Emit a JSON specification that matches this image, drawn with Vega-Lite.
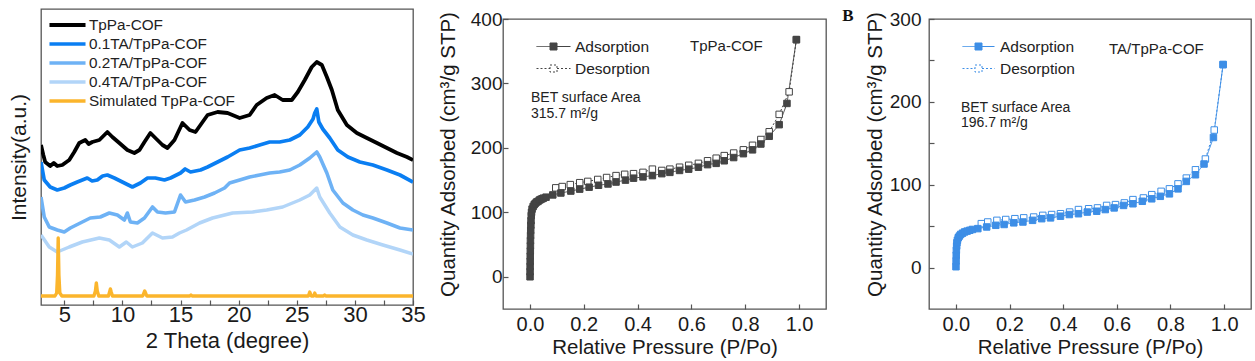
{
"$schema": "https://vega.github.io/schema/vega-lite/v6.json",
"padding": {"left": 7, "top": 5, "right": 0, "bottom": 0},
"background": "white",
"config": {
 "font": "Liberation Sans",
 "view": {"stroke": "#555555", "strokeWidth": 1.3},
 "axis": {"domain": false, "grid": false, "tickColor": "#555555", "tickWidth": 1.2, "labelColor": "#1a1a1a", "titleColor": "#1a1a1a", "titleFontWeight": "normal", "labelFont": "Liberation Sans", "titleFont": "Liberation Sans"},
 "legend": {"labelFont": "Liberation Sans"}
},
"spacing": 11,
"resolve": {"scale": {"color": "independent", "fill": "independent", "strokeDash": "independent", "strokeWidth": "independent"}},
"hconcat": [
{
 "spacing": 0,
 "resolve": {"scale": {"color": "independent", "fill": "independent", "strokeDash": "independent", "strokeWidth": "independent"}},
 "vconcat": [
 {"width": 10, "height": 3, "data": {"values": []}, "mark": {"type": "point"}, "encoding": {}, "view": {"stroke": null}},
 {
 "width": 372, "height": 296,
 "data": {"values": [
  {"t":3.0,"v":160,"s":"TpPa-COF"},{"t":3.2,"v":150,"s":"TpPa-COF"},{"t":3.36,"v":143,"s":"TpPa-COF"},{"t":3.79,"v":139,"s":"TpPa-COF"},{"t":4.1,"v":142,"s":"TpPa-COF"},{"t":4.4,"v":139,"s":"TpPa-COF"},{"t":4.83,"v":140,"s":"TpPa-COF"},{"t":5.43,"v":145,"s":"TpPa-COF"},{"t":5.86,"v":153,"s":"TpPa-COF"},{"t":6.29,"v":162,"s":"TpPa-COF"},{"t":6.81,"v":165,"s":"TpPa-COF"},{"t":7.1,"v":161,"s":"TpPa-COF"},{"t":7.41,"v":163,"s":"TpPa-COF"},{"t":8.02,"v":165,"s":"TpPa-COF"},{"t":8.71,"v":173,"s":"TpPa-COF"},{"t":9.14,"v":168,"s":"TpPa-COF"},{"t":9.74,"v":162,"s":"TpPa-COF"},{"t":10.43,"v":155,"s":"TpPa-COF"},{"t":11.03,"v":152,"s":"TpPa-COF"},{"t":11.47,"v":155,"s":"TpPa-COF"},{"t":11.9,"v":163,"s":"TpPa-COF"},{"t":12.41,"v":172,"s":"TpPa-COF"},{"t":12.84,"v":167,"s":"TpPa-COF"},{"t":13.45,"v":160,"s":"TpPa-COF"},{"t":13.88,"v":157,"s":"TpPa-COF"},{"t":14.48,"v":165,"s":"TpPa-COF"},{"t":15.17,"v":182,"s":"TpPa-COF"},{"t":15.78,"v":175,"s":"TpPa-COF"},{"t":16.29,"v":173,"s":"TpPa-COF"},{"t":16.9,"v":183,"s":"TpPa-COF"},{"t":17.33,"v":190,"s":"TpPa-COF"},{"t":18.19,"v":193,"s":"TpPa-COF"},{"t":19.05,"v":192,"s":"TpPa-COF"},{"t":20.09,"v":187,"s":"TpPa-COF"},{"t":20.95,"v":190,"s":"TpPa-COF"},{"t":21.55,"v":200,"s":"TpPa-COF"},{"t":22.41,"v":207,"s":"TpPa-COF"},{"t":23.1,"v":210,"s":"TpPa-COF"},{"t":23.79,"v":205,"s":"TpPa-COF"},{"t":24.57,"v":205,"s":"TpPa-COF"},{"t":25.09,"v":213,"s":"TpPa-COF"},{"t":25.69,"v":225,"s":"TpPa-COF"},{"t":26.29,"v":238,"s":"TpPa-COF"},{"t":26.72,"v":243,"s":"TpPa-COF"},{"t":27.16,"v":240,"s":"TpPa-COF"},{"t":27.59,"v":228,"s":"TpPa-COF"},{"t":28.02,"v":215,"s":"TpPa-COF"},{"t":28.53,"v":195,"s":"TpPa-COF"},{"t":29.31,"v":180,"s":"TpPa-COF"},{"t":30.17,"v":172,"s":"TpPa-COF"},{"t":31.03,"v":167,"s":"TpPa-COF"},{"t":31.9,"v":162,"s":"TpPa-COF"},{"t":32.76,"v":157,"s":"TpPa-COF"},{"t":33.62,"v":152,"s":"TpPa-COF"},{"t":34.48,"v":148,"s":"TpPa-COF"},{"t":35.0,"v":145,"s":"TpPa-COF"},
  {"t":3.0,"v":143,"s":"0.1TA/TpPa-COF"},{"t":3.28,"v":125,"s":"0.1TA/TpPa-COF"},{"t":3.79,"v":118,"s":"0.1TA/TpPa-COF"},{"t":4.4,"v":115,"s":"0.1TA/TpPa-COF"},{"t":5.0,"v":117,"s":"0.1TA/TpPa-COF"},{"t":5.52,"v":120,"s":"0.1TA/TpPa-COF"},{"t":6.12,"v":123,"s":"0.1TA/TpPa-COF"},{"t":6.98,"v":127,"s":"0.1TA/TpPa-COF"},{"t":7.4,"v":124,"s":"0.1TA/TpPa-COF"},{"t":7.84,"v":125,"s":"0.1TA/TpPa-COF"},{"t":8.3,"v":129,"s":"0.1TA/TpPa-COF"},{"t":8.71,"v":130,"s":"0.1TA/TpPa-COF"},{"t":9.31,"v":127,"s":"0.1TA/TpPa-COF"},{"t":10.17,"v":122,"s":"0.1TA/TpPa-COF"},{"t":10.86,"v":118,"s":"0.1TA/TpPa-COF"},{"t":11.55,"v":122,"s":"0.1TA/TpPa-COF"},{"t":12.16,"v":127,"s":"0.1TA/TpPa-COF"},{"t":12.84,"v":127,"s":"0.1TA/TpPa-COF"},{"t":13.62,"v":125,"s":"0.1TA/TpPa-COF"},{"t":14.14,"v":127,"s":"0.1TA/TpPa-COF"},{"t":15.0,"v":132,"s":"0.1TA/TpPa-COF"},{"t":15.4,"v":136,"s":"0.1TA/TpPa-COF"},{"t":15.86,"v":133,"s":"0.1TA/TpPa-COF"},{"t":16.72,"v":135,"s":"0.1TA/TpPa-COF"},{"t":17.33,"v":138,"s":"0.1TA/TpPa-COF"},{"t":18.19,"v":143,"s":"0.1TA/TpPa-COF"},{"t":19.05,"v":148,"s":"0.1TA/TpPa-COF"},{"t":19.5,"v":151,"s":"0.1TA/TpPa-COF"},{"t":20.09,"v":155,"s":"0.1TA/TpPa-COF"},{"t":20.95,"v":157,"s":"0.1TA/TpPa-COF"},{"t":21.81,"v":160,"s":"0.1TA/TpPa-COF"},{"t":22.67,"v":163,"s":"0.1TA/TpPa-COF"},{"t":23.53,"v":163,"s":"0.1TA/TpPa-COF"},{"t":24.4,"v":165,"s":"0.1TA/TpPa-COF"},{"t":25.26,"v":170,"s":"0.1TA/TpPa-COF"},{"t":25.95,"v":178,"s":"0.1TA/TpPa-COF"},{"t":26.4,"v":186,"s":"0.1TA/TpPa-COF"},{"t":26.55,"v":192,"s":"0.1TA/TpPa-COF"},{"t":26.72,"v":196,"s":"0.1TA/TpPa-COF"},{"t":26.9,"v":183,"s":"0.1TA/TpPa-COF"},{"t":27.24,"v":176,"s":"0.1TA/TpPa-COF"},{"t":27.84,"v":167,"s":"0.1TA/TpPa-COF"},{"t":28.53,"v":155,"s":"0.1TA/TpPa-COF"},{"t":29.4,"v":148,"s":"0.1TA/TpPa-COF"},{"t":30.43,"v":143,"s":"0.1TA/TpPa-COF"},{"t":31.55,"v":140,"s":"0.1TA/TpPa-COF"},{"t":32.76,"v":135,"s":"0.1TA/TpPa-COF"},{"t":33.88,"v":130,"s":"0.1TA/TpPa-COF"},{"t":35.0,"v":123,"s":"0.1TA/TpPa-COF"},
  {"t":3.0,"v":108,"s":"0.2TA/TpPa-COF"},{"t":3.28,"v":88,"s":"0.2TA/TpPa-COF"},{"t":3.71,"v":78,"s":"0.2TA/TpPa-COF"},{"t":4.4,"v":75,"s":"0.2TA/TpPa-COF"},{"t":5.0,"v":73,"s":"0.2TA/TpPa-COF"},{"t":5.52,"v":77,"s":"0.2TA/TpPa-COF"},{"t":6.38,"v":82,"s":"0.2TA/TpPa-COF"},{"t":7.24,"v":87,"s":"0.2TA/TpPa-COF"},{"t":8.1,"v":88,"s":"0.2TA/TpPa-COF"},{"t":8.88,"v":92,"s":"0.2TA/TpPa-COF"},{"t":9.57,"v":90,"s":"0.2TA/TpPa-COF"},{"t":10.17,"v":85,"s":"0.2TA/TpPa-COF"},{"t":10.43,"v":92,"s":"0.2TA/TpPa-COF"},{"t":10.69,"v":83,"s":"0.2TA/TpPa-COF"},{"t":11.29,"v":82,"s":"0.2TA/TpPa-COF"},{"t":11.9,"v":87,"s":"0.2TA/TpPa-COF"},{"t":12.59,"v":98,"s":"0.2TA/TpPa-COF"},{"t":13.02,"v":93,"s":"0.2TA/TpPa-COF"},{"t":13.71,"v":92,"s":"0.2TA/TpPa-COF"},{"t":14.48,"v":93,"s":"0.2TA/TpPa-COF"},{"t":15.0,"v":110,"s":"0.2TA/TpPa-COF"},{"t":15.43,"v":103,"s":"0.2TA/TpPa-COF"},{"t":16.21,"v":105,"s":"0.2TA/TpPa-COF"},{"t":17.07,"v":108,"s":"0.2TA/TpPa-COF"},{"t":17.93,"v":112,"s":"0.2TA/TpPa-COF"},{"t":18.79,"v":117,"s":"0.2TA/TpPa-COF"},{"t":19.22,"v":122,"s":"0.2TA/TpPa-COF"},{"t":20.09,"v":125,"s":"0.2TA/TpPa-COF"},{"t":20.95,"v":128,"s":"0.2TA/TpPa-COF"},{"t":21.81,"v":130,"s":"0.2TA/TpPa-COF"},{"t":22.67,"v":132,"s":"0.2TA/TpPa-COF"},{"t":23.53,"v":133,"s":"0.2TA/TpPa-COF"},{"t":24.4,"v":135,"s":"0.2TA/TpPa-COF"},{"t":25.26,"v":140,"s":"0.2TA/TpPa-COF"},{"t":26.12,"v":147,"s":"0.2TA/TpPa-COF"},{"t":26.72,"v":153,"s":"0.2TA/TpPa-COF"},{"t":26.98,"v":148,"s":"0.2TA/TpPa-COF"},{"t":27.59,"v":132,"s":"0.2TA/TpPa-COF"},{"t":28.1,"v":115,"s":"0.2TA/TpPa-COF"},{"t":28.97,"v":102,"s":"0.2TA/TpPa-COF"},{"t":29.83,"v":95,"s":"0.2TA/TpPa-COF"},{"t":30.69,"v":90,"s":"0.2TA/TpPa-COF"},{"t":31.55,"v":87,"s":"0.2TA/TpPa-COF"},{"t":32.76,"v":82,"s":"0.2TA/TpPa-COF"},{"t":33.88,"v":77,"s":"0.2TA/TpPa-COF"},{"t":35.0,"v":75,"s":"0.2TA/TpPa-COF"},
  {"t":3.0,"v":70,"s":"0.4TA/TpPa-COF"},{"t":3.71,"v":58,"s":"0.4TA/TpPa-COF"},{"t":4.4,"v":53,"s":"0.4TA/TpPa-COF"},{"t":5.43,"v":58,"s":"0.4TA/TpPa-COF"},{"t":6.55,"v":63,"s":"0.4TA/TpPa-COF"},{"t":8.02,"v":67,"s":"0.4TA/TpPa-COF"},{"t":8.88,"v":65,"s":"0.4TA/TpPa-COF"},{"t":9.74,"v":58,"s":"0.4TA/TpPa-COF"},{"t":10.34,"v":63,"s":"0.4TA/TpPa-COF"},{"t":10.86,"v":58,"s":"0.4TA/TpPa-COF"},{"t":11.72,"v":62,"s":"0.4TA/TpPa-COF"},{"t":12.59,"v":72,"s":"0.4TA/TpPa-COF"},{"t":13.45,"v":67,"s":"0.4TA/TpPa-COF"},{"t":14.31,"v":68,"s":"0.4TA/TpPa-COF"},{"t":14.91,"v":72,"s":"0.4TA/TpPa-COF"},{"t":15.52,"v":75,"s":"0.4TA/TpPa-COF"},{"t":16.64,"v":82,"s":"0.4TA/TpPa-COF"},{"t":17.76,"v":87,"s":"0.4TA/TpPa-COF"},{"t":19.48,"v":92,"s":"0.4TA/TpPa-COF"},{"t":21.21,"v":93,"s":"0.4TA/TpPa-COF"},{"t":22.41,"v":95,"s":"0.4TA/TpPa-COF"},{"t":23.79,"v":98,"s":"0.4TA/TpPa-COF"},{"t":25.26,"v":105,"s":"0.4TA/TpPa-COF"},{"t":26.12,"v":110,"s":"0.4TA/TpPa-COF"},{"t":26.72,"v":117,"s":"0.4TA/TpPa-COF"},{"t":26.98,"v":108,"s":"0.4TA/TpPa-COF"},{"t":27.84,"v":92,"s":"0.4TA/TpPa-COF"},{"t":28.71,"v":78,"s":"0.4TA/TpPa-COF"},{"t":29.83,"v":70,"s":"0.4TA/TpPa-COF"},{"t":31.03,"v":65,"s":"0.4TA/TpPa-COF"},{"t":32.41,"v":60,"s":"0.4TA/TpPa-COF"},{"t":33.88,"v":55,"s":"0.4TA/TpPa-COF"},{"t":35.0,"v":51,"s":"0.4TA/TpPa-COF"},
  {"t":3.0,"v":9,"s":"Simulated TpPa-COF"},{"t":4.2,"v":9,"s":"Simulated TpPa-COF"},{"t":4.35,"v":12,"s":"Simulated TpPa-COF"},{"t":4.42,"v":30,"s":"Simulated TpPa-COF"},{"t":4.48,"v":67,"s":"Simulated TpPa-COF"},{"t":4.54,"v":30,"s":"Simulated TpPa-COF"},{"t":4.62,"v":12,"s":"Simulated TpPa-COF"},{"t":4.8,"v":9,"s":"Simulated TpPa-COF"},{"t":7.55,"v":9,"s":"Simulated TpPa-COF"},{"t":7.68,"v":14,"s":"Simulated TpPa-COF"},{"t":7.76,"v":22,"s":"Simulated TpPa-COF"},{"t":7.84,"v":14,"s":"Simulated TpPa-COF"},{"t":7.97,"v":9,"s":"Simulated TpPa-COF"},{"t":8.8,"v":9,"s":"Simulated TpPa-COF"},{"t":8.9,"v":13,"s":"Simulated TpPa-COF"},{"t":8.97,"v":16,"s":"Simulated TpPa-COF"},{"t":9.04,"v":13,"s":"Simulated TpPa-COF"},{"t":9.15,"v":9,"s":"Simulated TpPa-COF"},{"t":11.75,"v":9,"s":"Simulated TpPa-COF"},{"t":11.85,"v":12,"s":"Simulated TpPa-COF"},{"t":11.92,"v":14,"s":"Simulated TpPa-COF"},{"t":12.0,"v":12,"s":"Simulated TpPa-COF"},{"t":12.1,"v":9,"s":"Simulated TpPa-COF"},{"t":15.8,"v":9,"s":"Simulated TpPa-COF"},{"t":15.9,"v":10,"s":"Simulated TpPa-COF"},{"t":16.0,"v":9,"s":"Simulated TpPa-COF"},{"t":26.0,"v":9,"s":"Simulated TpPa-COF"},{"t":26.12,"v":13,"s":"Simulated TpPa-COF"},{"t":26.25,"v":9,"s":"Simulated TpPa-COF"},{"t":26.45,"v":9,"s":"Simulated TpPa-COF"},{"t":26.55,"v":12,"s":"Simulated TpPa-COF"},{"t":26.65,"v":9,"s":"Simulated TpPa-COF"},{"t":27.3,"v":9,"s":"Simulated TpPa-COF"},{"t":27.4,"v":10,"s":"Simulated TpPa-COF"},{"t":27.5,"v":9,"s":"Simulated TpPa-COF"},{"t":35.0,"v":9,"s":"Simulated TpPa-COF"}
 ]},
 "mark": {"type": "line", "clip": true, "strokeJoin": "round"},
 "encoding": {
  "x": {"field": "t", "type": "quantitative", "scale": {"domain": [3, 35], "nice": false, "zero": false},
   "axis": {"title": "2 Theta (degree)", "values": [5,7.5,10,12.5,15,17.5,20,22.5,25,27.5,30,32.5,35], "labelExpr": "datum.value % 5 === 0 ? datum.label : ''", "labelFontSize": 22, "titleFontSize": 22, "tickSize": -5, "labelPadding": 4, "titlePadding": 5, "labelFlush": false}},
  "y": {"field": "v", "type": "quantitative", "scale": {"domain": [0, 296], "nice": false, "zero": false},
   "axis": {"title": "Intensity(a.u.)", "labels": false, "ticks": false, "titleFontSize": 21, "titlePadding": 12}},
  "color": {"field": "s", "type": "nominal",
   "scale": {"domain": ["TpPa-COF","0.1TA/TpPa-COF","0.2TA/TpPa-COF","0.4TA/TpPa-COF","Simulated TpPa-COF"], "range": ["#000000","#0a7ef2","#6eb2f5","#b2d5f8","#fbb52c"]},
   "legend": {"title": null, "orient": "none", "legendX": 16, "legendY": 5.5, "symbolType": "M-2.12,0H2.12", "symbolSize": 289, "symbolStrokeWidth": 2.5, "labelFontSize": 15.3, "labelOffset": 11, "rowPadding": 0, "padding": 0, "labelColor": "#222222"}},
  "strokeWidth": {"field": "s", "type": "nominal", "scale": {"domain": ["TpPa-COF","0.1TA/TpPa-COF","0.2TA/TpPa-COF","0.4TA/TpPa-COF","Simulated TpPa-COF"], "range": [3.8, 3.4, 3.4, 3.4, 2.0]}, "legend": null}
 }
 }
 ]
},
{
 "spacing": 0,
 "resolve": {"scale": {"color": "independent", "fill": "independent", "strokeDash": "independent", "strokeWidth": "independent"}},
 "vconcat": [
  {"width": 10, "height": 1, "data": {"values": []}, "mark": {"type": "point"}, "encoding": {}, "view": {"stroke": null}},
  {
   "spacing": 14,
   "resolve": {"scale": {"color": "independent", "fill": "independent", "strokeDash": "independent", "strokeWidth": "independent"}},
   "hconcat": [
    {
     "width": 323, "height": 290,
     "data": {"values": [
      {"p":0.096,"q":138,"s":"Desorption"},{"p":0.12,"q":140,"s":"Desorption"},{"p":0.15,"q":143,"s":"Desorption"},{"p":0.185,"q":146,"s":"Desorption"},{"p":0.215,"q":148,"s":"Desorption"},{"p":0.252,"q":151,"s":"Desorption"},{"p":0.285,"q":154,"s":"Desorption"},{"p":0.32,"q":157,"s":"Desorption"},{"p":0.352,"q":159,"s":"Desorption"},{"p":0.385,"q":160,"s":"Desorption"},{"p":0.42,"q":162,"s":"Desorption"},{"p":0.455,"q":167,"s":"Desorption"},{"p":0.49,"q":165,"s":"Desorption"},{"p":0.52,"q":167,"s":"Desorption"},{"p":0.556,"q":170,"s":"Desorption"},{"p":0.59,"q":173,"s":"Desorption"},{"p":0.626,"q":176,"s":"Desorption"},{"p":0.66,"q":180,"s":"Desorption"},{"p":0.692,"q":184,"s":"Desorption"},{"p":0.722,"q":188,"s":"Desorption"},{"p":0.757,"q":192,"s":"Desorption"},{"p":0.793,"q":197,"s":"Desorption"},{"p":0.827,"q":204,"s":"Desorption"},{"p":0.858,"q":213,"s":"Desorption"},{"p":0.889,"q":225,"s":"Desorption"},{"p":0.926,"q":252,"s":"Desorption"},{"p":0.963,"q":287,"s":"Desorption"},{"p":0.99,"q":368,"s":"Desorption"},
      {"p":0.0005,"q":0,"s":"Adsorption"},{"p":0.0006,"q":8,"s":"Adsorption"},{"p":0.0008,"q":16,"s":"Adsorption"},{"p":0.001,"q":24,"s":"Adsorption"},{"p":0.0012,"q":32,"s":"Adsorption"},{"p":0.0015,"q":40,"s":"Adsorption"},{"p":0.0018,"q":48,"s":"Adsorption"},{"p":0.002,"q":56,"s":"Adsorption"},{"p":0.0025,"q":64,"s":"Adsorption"},{"p":0.003,"q":72,"s":"Adsorption"},{"p":0.0035,"q":80,"s":"Adsorption"},{"p":0.004,"q":87,"s":"Adsorption"},{"p":0.005,"q":95,"s":"Adsorption"},{"p":0.006,"q":100,"s":"Adsorption"},{"p":0.008,"q":105,"s":"Adsorption"},{"p":0.012,"q":109,"s":"Adsorption"},{"p":0.016,"q":112,"s":"Adsorption"},{"p":0.02,"q":114,"s":"Adsorption"},{"p":0.025,"q":116,"s":"Adsorption"},{"p":0.03,"q":117,"s":"Adsorption"},{"p":0.035,"q":119,"s":"Adsorption"},{"p":0.04,"q":120,"s":"Adsorption"},{"p":0.045,"q":121,"s":"Adsorption"},{"p":0.05,"q":122,"s":"Adsorption"},{"p":0.06,"q":123.5,"s":"Adsorption"},{"p":0.085,"q":127,"s":"Adsorption"},{"p":0.115,"q":130,"s":"Adsorption"},{"p":0.152,"q":133,"s":"Adsorption"},{"p":0.185,"q":136,"s":"Adsorption"},{"p":0.22,"q":139,"s":"Adsorption"},{"p":0.255,"q":142,"s":"Adsorption"},{"p":0.29,"q":144,"s":"Adsorption"},{"p":0.32,"q":147,"s":"Adsorption"},{"p":0.355,"q":150,"s":"Adsorption"},{"p":0.385,"q":153,"s":"Adsorption"},{"p":0.42,"q":155,"s":"Adsorption"},{"p":0.455,"q":157,"s":"Adsorption"},{"p":0.49,"q":160,"s":"Adsorption"},{"p":0.52,"q":162,"s":"Adsorption"},{"p":0.556,"q":165,"s":"Adsorption"},{"p":0.59,"q":167,"s":"Adsorption"},{"p":0.626,"q":170,"s":"Adsorption"},{"p":0.66,"q":174,"s":"Adsorption"},{"p":0.692,"q":176,"s":"Adsorption"},{"p":0.722,"q":180,"s":"Adsorption"},{"p":0.757,"q":185,"s":"Adsorption"},{"p":0.793,"q":191,"s":"Adsorption"},{"p":0.827,"q":197,"s":"Adsorption"},{"p":0.858,"q":206,"s":"Adsorption"},{"p":0.889,"q":218,"s":"Adsorption"},{"p":0.926,"q":236,"s":"Adsorption"},{"p":0.955,"q":269,"s":"Adsorption"},{"p":0.99,"q":368,"s":"Adsorption"}
     ]},
     "layer": [
      {"mark": {"type": "line", "color": "#444444", "strokeWidth": 1},
       "encoding": {
        "x": {"field": "p", "type": "quantitative", "scale": {"domain": [-0.1, 1.1], "nice": false, "zero": false},
         "axis": {"title": "Relative Pressure (P/Po)", "values": [0,0.1,0.2,0.3,0.4,0.5,0.6,0.7,0.8,0.9,1.0], "labelExpr": "round(datum.value*10) % 2 === 0 ? format(datum.value, '.1f') : ''", "labelFontSize": 20, "titleFontSize": 20.5, "tickSize": -5, "labelPadding": 10, "titlePadding": 3, "labelFlush": false}},
        "y": {"field": "q", "type": "quantitative", "scale": {"domain": [-50, 400], "nice": false, "zero": false},
         "axis": {"title": "Quantity Adsorbed (cm³/g STP)", "values": [0,50,100,150,200,250,300,350,400], "labelExpr": "datum.value % 100 === 0 ? datum.label : ''", "labelFontSize": 19, "titleFontSize": 20.5, "tickSize": -5, "labelPadding": 6, "titleX": -45, "titleY": 135}},
        "strokeDash": {"field": "s", "type": "nominal", "scale": {"domain": ["Adsorption","Desorption"], "range": [[1,0],[2,2]]},
         "legend": {"title": null, "orient": "none", "legendX": 40, "legendY": 17, "symbolType": "M-1.7,0H-0.35M0.35,0H1.7M-0.35,-0.35H0.35V0.35H-0.35Z", "symbolSize": 400, "symbolStrokeColor": "#444444", "symbolStrokeWidth": 1, "labelFontSize": 15.5, "labelOffset": 11, "rowPadding": 3, "padding": 0, "labelColor": "#222222"}}
       }},
      {"mark": {"type": "point", "shape": "square", "size": 42, "filled": true, "stroke": "#444444", "strokeWidth": 1, "opacity": 1},
       "encoding": {
        "x": {"field": "p", "type": "quantitative"},
        "y": {"field": "q", "type": "quantitative"},
        "fill": {"field": "s", "type": "nominal", "scale": {"domain": ["Adsorption","Desorption"], "range": ["#444444","#ffffff"]},
         "legend": {"title": null, "orient": "none", "legendX": 40, "legendY": 17, "symbolType": "M-1.7,0H-0.35M0.35,0H1.7M-0.35,-0.35H0.35V0.35H-0.35Z", "symbolSize": 400, "symbolStrokeColor": "#444444", "symbolStrokeWidth": 1, "labelFontSize": 15.5, "labelOffset": 11, "rowPadding": 3, "padding": 0, "labelColor": "#222222"}}
       }},
      {"data": {"values": [{}]}, "mark": {"type": "text", "text": "TpPa-COF", "align": "left", "baseline": "middle", "fontSize": 15, "color": "#222222"},
       "encoding": {"x": {"datum": 0.595}, "y": {"datum": 358}}},
      {"data": {"values": [{}]}, "mark": {"type": "text", "text": ["BET surface Area", "315.7 m²/g"], "align": "left", "baseline": "middle", "fontSize": 14, "lineHeight": 16, "color": "#222222"},
       "encoding": {"x": {"datum": 0.004}, "y": {"datum": 278}}}
     ]
    },
    {
     "width": 322, "height": 290,
     "data": {"values": [
      {"p":0.095,"q":53,"s":"Desorption"},{"p":0.119,"q":55,"s":"Desorption"},{"p":0.153,"q":57,"s":"Desorption"},{"p":0.186,"q":58,"s":"Desorption"},{"p":0.22,"q":59,"s":"Desorption"},{"p":0.253,"q":60,"s":"Desorption"},{"p":0.29,"q":61,"s":"Desorption"},{"p":0.324,"q":63,"s":"Desorption"},{"p":0.357,"q":64,"s":"Desorption"},{"p":0.39,"q":65,"s":"Desorption"},{"p":0.424,"q":67,"s":"Desorption"},{"p":0.457,"q":70,"s":"Desorption"},{"p":0.495,"q":71,"s":"Desorption"},{"p":0.528,"q":72,"s":"Desorption"},{"p":0.562,"q":75,"s":"Desorption"},{"p":0.595,"q":76,"s":"Desorption"},{"p":0.628,"q":78,"s":"Desorption"},{"p":0.66,"q":82,"s":"Desorption"},{"p":0.699,"q":84,"s":"Desorption"},{"p":0.73,"q":88,"s":"Desorption"},{"p":0.765,"q":92,"s":"Desorption"},{"p":0.796,"q":95,"s":"Desorption"},{"p":0.828,"q":101,"s":"Desorption"},{"p":0.859,"q":108,"s":"Desorption"},{"p":0.893,"q":118,"s":"Desorption"},{"p":0.93,"q":131,"s":"Desorption"},{"p":0.963,"q":166,"s":"Desorption"},{"p":0.996,"q":245,"s":"Desorption"},
      {"p":0.0005,"q":1,"s":"Adsorption"},{"p":0.001,"q":8,"s":"Adsorption"},{"p":0.0015,"q":15,"s":"Adsorption"},{"p":0.002,"q":21,"s":"Adsorption"},{"p":0.003,"q":26,"s":"Adsorption"},{"p":0.004,"q":30,"s":"Adsorption"},{"p":0.006,"q":33,"s":"Adsorption"},{"p":0.009,"q":36,"s":"Adsorption"},{"p":0.013,"q":38,"s":"Adsorption"},{"p":0.018,"q":40,"s":"Adsorption"},{"p":0.025,"q":41.5,"s":"Adsorption"},{"p":0.033,"q":43,"s":"Adsorption"},{"p":0.042,"q":44,"s":"Adsorption"},{"p":0.052,"q":45,"s":"Adsorption"},{"p":0.062,"q":46,"s":"Adsorption"},{"p":0.082,"q":47,"s":"Adsorption"},{"p":0.115,"q":49,"s":"Adsorption"},{"p":0.149,"q":51,"s":"Adsorption"},{"p":0.18,"q":52,"s":"Adsorption"},{"p":0.216,"q":54,"s":"Adsorption"},{"p":0.25,"q":55,"s":"Adsorption"},{"p":0.286,"q":57,"s":"Adsorption"},{"p":0.32,"q":59,"s":"Adsorption"},{"p":0.353,"q":60,"s":"Adsorption"},{"p":0.39,"q":62,"s":"Adsorption"},{"p":0.423,"q":64,"s":"Adsorption"},{"p":0.457,"q":65,"s":"Adsorption"},{"p":0.49,"q":67,"s":"Adsorption"},{"p":0.525,"q":68,"s":"Adsorption"},{"p":0.557,"q":70,"s":"Adsorption"},{"p":0.59,"q":72,"s":"Adsorption"},{"p":0.625,"q":75,"s":"Adsorption"},{"p":0.66,"q":77,"s":"Adsorption"},{"p":0.695,"q":80,"s":"Adsorption"},{"p":0.73,"q":83,"s":"Adsorption"},{"p":0.762,"q":86,"s":"Adsorption"},{"p":0.796,"q":89,"s":"Adsorption"},{"p":0.828,"q":95,"s":"Adsorption"},{"p":0.859,"q":104,"s":"Adsorption"},{"p":0.893,"q":112,"s":"Adsorption"},{"p":0.925,"q":125,"s":"Adsorption"},{"p":0.96,"q":157,"s":"Adsorption"},{"p":0.996,"q":245,"s":"Adsorption"}
     ]},
     "layer": [
      {"mark": {"type": "line", "color": "#3d8ee6", "strokeWidth": 1},
       "encoding": {
        "x": {"field": "p", "type": "quantitative", "scale": {"domain": [-0.1, 1.1], "nice": false, "zero": false},
         "axis": {"title": "Relative Pressure (P/Po)", "values": [0,0.1,0.2,0.3,0.4,0.5,0.6,0.7,0.8,0.9,1.0], "labelExpr": "round(datum.value*10) % 2 === 0 ? format(datum.value, '.1f') : ''", "labelFontSize": 20, "titleFontSize": 20.5, "tickSize": -5, "labelPadding": 10, "titlePadding": 3, "labelFlush": false}},
        "y": {"field": "q", "type": "quantitative", "scale": {"domain": [-50, 300], "nice": false, "zero": false},
         "axis": {"title": "Quantity Adsorbed (cm³/g STP)", "values": [0,50,100,150,200,250,300], "labelExpr": "datum.value % 100 === 0 ? datum.label : ''", "labelFontSize": 19, "titleFontSize": 20.5, "tickSize": -5, "labelPadding": 13, "titleX": -44, "titleY": 135}},
        "strokeDash": {"field": "s", "type": "nominal", "scale": {"domain": ["Adsorption","Desorption"], "range": [[1,0],[2,2]]},
         "legend": {"title": null, "orient": "none", "legendX": 39, "legendY": 17, "symbolType": "M-1.6,0H-0.35M0.35,0H1.6M-0.35,-0.35H0.35V0.35H-0.35Z", "symbolSize": 400, "symbolStrokeColor": "#3d8ee6", "symbolStrokeWidth": 1, "labelFontSize": 15.5, "labelOffset": 11, "rowPadding": 3, "padding": 0, "labelColor": "#222222"}}
       }},
      {"mark": {"type": "point", "shape": "square", "size": 42, "filled": true, "stroke": "#3d8ee6", "strokeWidth": 1, "opacity": 1},
       "encoding": {
        "x": {"field": "p", "type": "quantitative"},
        "y": {"field": "q", "type": "quantitative"},
        "fill": {"field": "s", "type": "nominal", "scale": {"domain": ["Adsorption","Desorption"], "range": ["#3d8ee6","#ffffff"]},
         "legend": {"title": null, "orient": "none", "legendX": 39, "legendY": 17, "symbolType": "M-1.6,0H-0.35M0.35,0H1.6M-0.35,-0.35H0.35V0.35H-0.35Z", "symbolSize": 400, "symbolStrokeColor": "#3d8ee6", "symbolStrokeWidth": 1, "labelFontSize": 15.5, "labelOffset": 11, "rowPadding": 3, "padding": 0, "labelColor": "#222222"}}
       }},
      {"data": {"values": [{}]}, "mark": {"type": "text", "text": "TA/TpPa-COF", "align": "left", "baseline": "middle", "fontSize": 15, "color": "#222222"},
       "encoding": {"x": {"datum": 0.571}, "y": {"datum": 264}}},
      {"data": {"values": [{}]}, "mark": {"type": "text", "text": ["BET surface Area", "196.7 m²/g"], "align": "left", "baseline": "middle", "fontSize": 14, "lineHeight": 15, "color": "#222222"},
       "encoding": {"x": {"datum": 0.019}, "y": {"datum": 193}}},
      {"data": {"values": [{}]}, "mark": {"type": "text", "text": "B", "align": "center", "baseline": "middle", "fontSize": 17, "font": "Liberation Serif", "fontWeight": "bold", "color": "#111111", "clip": false},
       "encoding": {"x": {"datum": -0.402}, "y": {"datum": 303.6}}}
     ]
    }
   ]
  }
 ]
}
]
}
